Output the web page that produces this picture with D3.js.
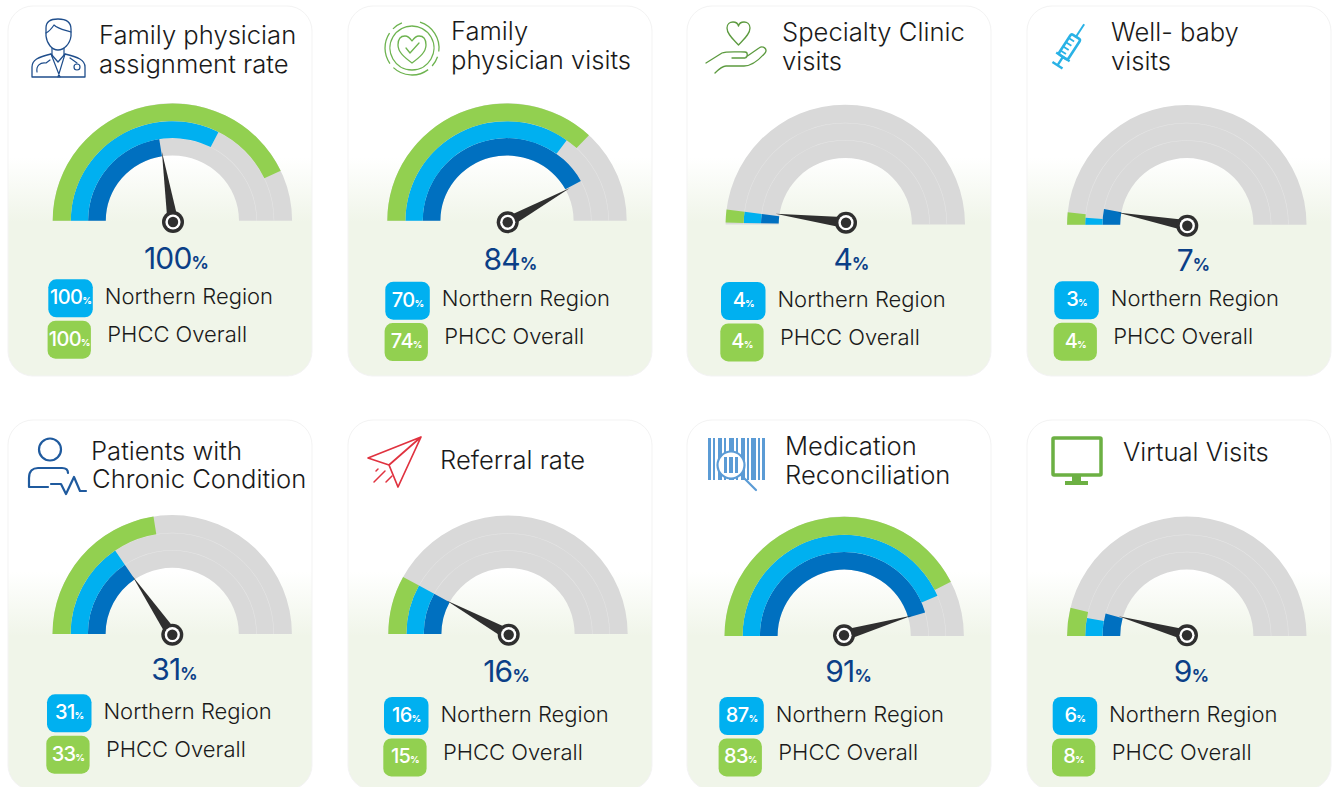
<!DOCTYPE html>
<html lang="en">
<head>
<meta charset="UTF-8">
<title>Primary care gauges</title>
<script src="https://d3js.org/d3.v7.min.js"></script>
<style>
    body { margin: 0; background: #fff; overflow: hidden; }
    text { font-family: Inter, "Open Sans", sans-serif; }
    .title { font-size: 25.6px; font-weight: 300; fill: #1a1a1a; }
    .legend-label { font-size: 22px; font-weight: 300; fill: #1a1a1a; }
    .value { fill: #0b3f87; font-weight: 400; font-size: 30px; letter-spacing: -0.8px; }
    .chip-text { fill: #fff; font-weight: 500; font-size: 20px; letter-spacing: -0.6px; }
</style>
</head>
<body>
<svg id="chart" width="1334" height="787"></svg>
<script>
// label values
const titles = [
    ["Family physician", "assignment rate"],
    ["Family", "physician visits"],
    ["Specialty Clinic", "visits"],
    ["Well- baby", "visits"],
    ["Patients with", "Chronic Condition"],
    ["Referral rate"],
    ["Medication", "Reconciliation"],
    ["Virtual Visits"]
];
const mainLabel = [100, 84, 4, 7, 31, 16, 91, 9];
const northLabel = [100, 70, 4, 3, 31, 16, 87, 6];
const phccLabel = [100, 74, 4, 4, 33, 15, 83, 8];

// arc lengths as drawn (they don't always agree with the labels)
const darkArc = [45, 84, 4, 6, 31, 16, 91, 8.6];
const blueArc = [65, 70, 4, 2.2, 31, 16, 87, 5.7];
const greenArc = [86, 74, 4, 3.3, 45, 16, 85, 7.6];
const arcStart = [0, 0, 0.5, 0, 0, 0, 0, 0];

// layout
const cardX = [8, 348, 687, 1027, 8, 348, 687, 1027];
const cardY = [6, 6, 6, 6, 420, 420, 420, 420];
const gaugeX = [172.4, 507, 845.3, 1186.8, 172.2, 508, 844.2, 1186.8];
const gaugeY = [220.7, 220.7, 224.5, 224.7, 634, 634, 636, 636];
const gaugeSquash = [0.98, 0.98, 1, 1, 0.993, 0.99, 0.997, 0.997];
const hubX = [173, 507.7, 846, 1187.3, 172.3, 508.7, 844, 1187];
const hubY = [222, 222.3, 222.7, 225.7, 634.7, 634.7, 635.3, 635.3];
const valueX = [176, 510, 851, 1193, 174, 506, 848, 1191];
const valueY = [269, 270, 270, 271, 680, 682, 682, 682];
const chipX = [48.3, 385.3, 721, 1054.3, 47, 384, 719.3, 1052.7];
const chipY = [279.3, 281.7, 282, 281.3, 694.3, 697, 697, 697];
const titleX = [[99, 99], [451, 451], [782, 782], [1111, 1111], [91, 92], [440], [785, 785], [1123]];
const titleY = [[44, 73], [40, 69], [41, 70], [41, 70], [460, 488], [469], [455, 484], [461]];
const radii = [66.6, 84.3, 101.6, 119.7];

const colors = { dark: "#0070c0", blue: "#00b0f0", green: "#92d050", gray: "#d9d9d9", needle: "#2f2f2f" };

const svg = d3.select("#chart");
const defs = svg.append("defs");
const grad = defs.append("linearGradient").attr("id", "cardFill")
    .attr("x1", 0).attr("x2", 0).attr("y1", 0).attr("y2", 1);
grad.append("stop").attr("offset", 0.41).attr("stop-color", "#ffffff");
grad.append("stop").attr("offset", 0.585).attr("stop-color", "#f0f5e9");

const angle = d3.scaleLinear().domain([0, 100]).range([-Math.PI / 2, Math.PI / 2]);
const arc = d3.arc();
const polar = (a, r) => [r * Math.sin(a), -r * Math.cos(a)];

titles.forEach((lines, i) => {
    const card = svg.append("g");
    card.append("rect")
        .attr("x", cardX[i]).attr("y", cardY[i])
        .attr("width", 304).attr("height", 370).attr("rx", 25)
        .attr("fill", "url(#cardFill)").attr("stroke", "#f3f3f3");

    lines.forEach((t, j) => {
        card.append("text").attr("class", "title")
            .attr("x", titleX[i][j]).attr("y", titleY[i][j]).text(t);
    });

    // gauge
    const g = card.append("g").attr("transform", `translate(${gaugeX[i]},${gaugeY[i]}) scale(1,${gaugeSquash[i]})`);
    g.append("path").attr("fill", colors.gray).attr("d", arc({
        innerRadius: radii[0], outerRadius: radii[3], startAngle: angle(0), endAngle: angle(100)
    }));
    [radii[1], radii[2]].forEach(r => {
        g.append("path").attr("fill", "#e6e6e6").attr("d", arc({
            innerRadius: r - 0.25, outerRadius: r + 0.25, startAngle: angle(0), endAngle: angle(100)
        }));
    });
    [[darkArc, colors.dark], [blueArc, colors.blue], [greenArc, colors.green]].forEach(([vals, c], k) => {
        g.append("path").attr("fill", c).attr("d", arc({
            innerRadius: radii[k], outerRadius: radii[k + 1],
            startAngle: angle(arcStart[i]), endAngle: angle(vals[i])
        }));
    });

    // needle + hub
    const hub = card.append("g").attr("transform", `translate(${hubX[i]},${hubY[i]})`);
    const a = angle(darkArc[i]);
    const tip = polar(a, 71);
    const b1 = polar(a - Math.PI / 2, 5.5);
    const b2 = polar(a + Math.PI / 2, 5.5);
    hub.append("path").attr("fill", colors.needle)
        .attr("d", `M${b1[0]},${b1[1]}L${tip[0]},${tip[1]}L${b2[0]},${b2[1]}Z`);
    hub.append("circle").attr("r", 11).attr("fill", colors.needle);
    hub.append("circle").attr("r", 7.6).attr("fill", "#fff");
    hub.append("circle").attr("r", 5.2).attr("fill", colors.needle);

    // big number
    const v = card.append("text").attr("class", "value")
        .attr("x", valueX[i]).attr("y", valueY[i]).attr("text-anchor", "middle");
    v.append("tspan").text(mainLabel[i]);
    v.append("tspan").attr("font-size", 17).attr("font-weight", 700).text("%");

    // legend
    const rows = [
        { val: northLabel[i], name: "Northern Region", fill: colors.blue, x: chipX[i], y: chipY[i], w: 44.5, lx: 56.4 },
        { val: phccLabel[i], name: "PHCC Overall", fill: colors.green, x: chipX[i] - 0.7, y: chipY[i] + 41.4, w: 43.3, lx: 59 }
    ];
    rows.forEach(r => {
        card.append("rect").attr("x", r.x).attr("y", r.y)
            .attr("width", r.w).attr("height", 38).attr("rx", 8).attr("fill", r.fill);
        const t = card.append("text").attr("class", "chip-text")
            .attr("x", r.x + r.w / 2).attr("y", r.y + 25).attr("text-anchor", "middle");
        t.append("tspan").text(r.val);
        t.append("tspan").attr("font-size", 9).attr("font-weight", 800).text("%");
        card.append("text").attr("class", "legend-label")
            .attr("x", chipX[i] + r.lx).attr("y", chipY[i] + (r === rows[0] ? 24.7 : 62.7)).text(r.name);
    });
});

// icons, hand drawn in page coordinates
function line(d, color, width) {
    return svg.append("path").attr("d", d).attr("fill", "none").attr("stroke", color)
        .attr("stroke-width", width).attr("stroke-linecap", "round").attr("stroke-linejoin", "round");
}

// doctor
const navy = "#1f4e8c";
line("M46 28C46 22 50 19 58 19C66 19 71 22 71 29L71 36C70 44 64 50 58 50C52 50 47 44 46 36Z", navy, 1.3);
line("M46 33C50 31 52 28 54 25C58 29 65 30 71 32", navy, 1.2);
line("M52 48L52 56M64 48L64 56", navy, 1.2);
line("M32 77L32 67C32 60 38 57 51 54L58 62L65 54C78 57 85 60 85 67L85 77Z", navy, 1.3);
line("M51 54L60 77M65 54L58 77M50 60L46 63C40 62 36 66 37 72M70 58L77 63", navy, 1.2);
svg.append("circle").attr("cx", 77).attr("cy", 67).attr("r", 3).attr("fill", "none").attr("stroke", navy).attr("stroke-width", 1.2);

// heart in rings
const leaf = "#6db34f";
const ring = (r, s, e) => d3.arc()({ innerRadius: r, outerRadius: r, startAngle: s, endAngle: e });
const ringG = svg.append("g").attr("transform", "translate(412,48)");
[[22, 0, 6.28], [27, 0.3, 1.7], [27, 1.9, 2.3], [27, 2.5, 3.9], [27, 4.1, 5.3], [27, 5.5, 5.9]].forEach(([r, s, e]) => {
    ringG.append("path").attr("d", ring(r, s, e)).attr("fill", "none").attr("stroke", leaf)
        .attr("stroke-width", 1.3).attr("stroke-linecap", "round");
});
line("M412 63C404 57 398 52 398 45C398 39 401 36 405 36C408 36 410 38 412 41C414 38 416 36 419 36C423 36 426 39 426 45C426 52 420 57 412 63Z", leaf, 1.3);
line("M406 48L410 53L419 43", leaf, 1.3);

// hand with heart
const moss = "#5c9a3f";
line("M738.5 45C733 39 727 34 727 28C727 24 730 22 733 22C736 22 738 24 738.5 26C739 24 741 22 744 22C747 22 750 24 750 28C750 34 744 39 738.5 45Z", moss, 1.3);
line("M706 63L722 53C726 51 740 52 745 52C748 52 748 57 745 58L732 58M746 57L759 48C763 45 768 49 765 53C758 61 750 66 744 66L726 66C722 66 718 70 715 73", moss, 1.3);

// syringe
const cyan = "#29b2e6";
const syr = svg.append("g").attr("transform", "translate(1070,46) rotate(33)");
syr.append("rect").attr("x", -5.5).attr("y", -11).attr("width", 11).attr("height", 24).attr("rx", 2)
    .attr("fill", "none").attr("stroke", cyan).attr("stroke-width", 2.6);
[-6, -1, 4, 9].forEach(y => syr.append("path").attr("d", `M-5 ${y}L1 ${y}`).attr("stroke", cyan).attr("stroke-width", 1.8));
syr.append("path").attr("d", "M0 -11L0 -26").attr("stroke", cyan).attr("stroke-width", 2);
syr.append("path").attr("d", "M0 13L0 23M-6 23L6 23M-8 13L8 13").attr("stroke", cyan).attr("stroke-width", 2.4);

// patient with pulse
const blueIcon = "#1f5a9e";
svg.append("ellipse").attr("cx", 50).attr("cy", 449.5).attr("rx", 11).attr("ry", 11)
    .attr("fill", "none").attr("stroke", blueIcon).attr("stroke-width", 2.2);
line("M29 487L29 478C29 471 33 468 38 468L62 468C66 468 68 470 68 473M29 487L48 487", blueIcon, 2.2);
line("M51 484L61 484L66 494L74 477L80 491L86 491", blueIcon, 2.2);

// paper plane
const red = "#e0323f";
line("M421 437L368 458L389 465L398 487ZM421 437L389 465", red, 1.7);
line("M385 471L374 482M378 469L376 471M392 476L386 482", red, 1.5);

// barcode
const barBlue = "#5b9bd5";
const bars = [[708, 3], [713, 2], [718, 4], [724, 2], [729, 5], [736, 2], [741, 4], [747, 2], [751, 5], [758, 2], [762, 3]];
bars.forEach(([x, w]) => svg.append("rect").attr("x", x).attr("y", 438).attr("width", w).attr("height", 42).attr("fill", barBlue));
svg.append("circle").attr("cx", 731).attr("cy", 465).attr("r", 13.5).attr("fill", "#fff").attr("stroke", barBlue).attr("stroke-width", 2.2);
[[724, 3], [729, 4], [735, 3]].forEach(([x, w]) => svg.append("rect").attr("x", x).attr("y", 457).attr("width", w).attr("height", 16).attr("fill", barBlue));
line("M741 475L756 490", barBlue, 2.2);

// monitor
const screenGreen = "#6cb043";
svg.append("rect").attr("x", 1053).attr("y", 438).attr("width", 48).attr("height", 37).attr("rx", 1)
    .attr("fill", "#fff").attr("stroke", screenGreen).attr("stroke-width", 3.5);
svg.append("rect").attr("x", 1072).attr("y", 476).attr("width", 9).attr("height", 5).attr("fill", screenGreen);
svg.append("rect").attr("x", 1065).attr("y", 481).attr("width", 23).attr("height", 4).attr("fill", screenGreen);
</script>
</body>
</html>
